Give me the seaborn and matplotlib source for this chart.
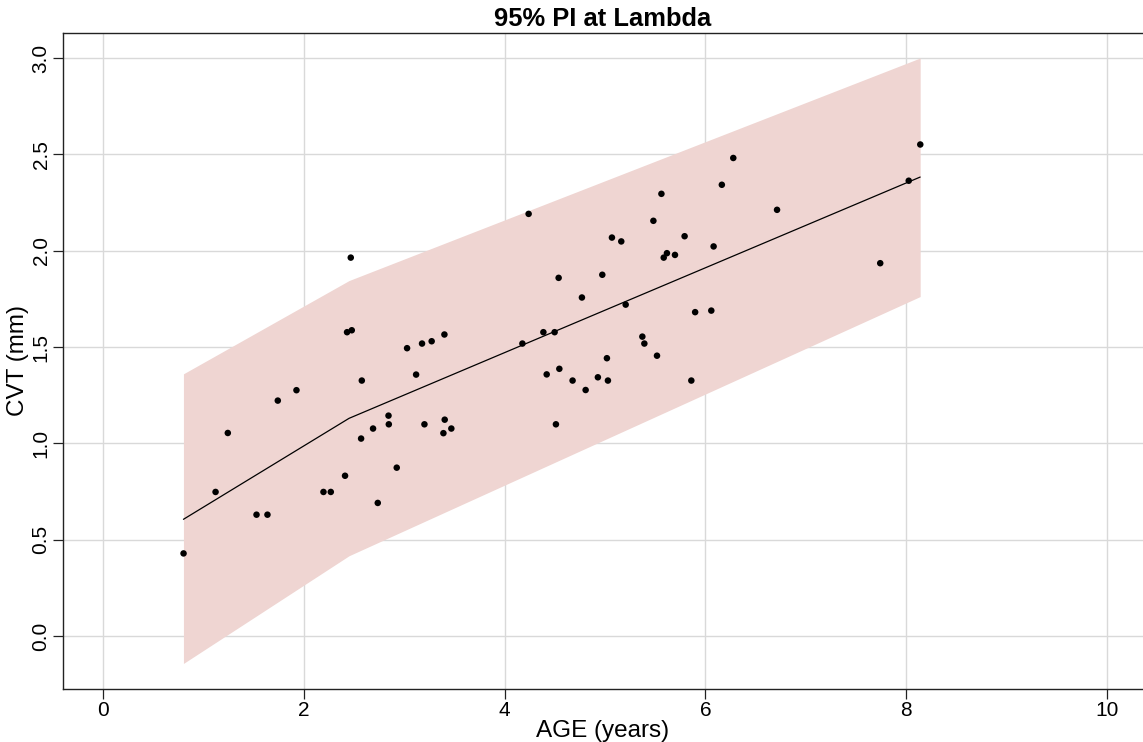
import matplotlib
matplotlib.use("Agg")
import matplotlib.pyplot as plt
import seaborn as sns
import pandas as pd

# ---- data ----
age = [0.801, 1.120, 1.242, 1.528, 1.637, 1.740, 1.926, 2.195, 2.268, 2.410,
       2.430, 2.477, 2.467, 2.570, 2.577, 2.689, 2.736, 2.843, 2.846, 2.925,
       3.028, 3.118, 3.177, 3.201, 3.273, 3.400, 3.390, 3.403, 3.469, 4.177,
       4.239, 4.386, 4.419, 4.498, 4.511, 4.538, 4.545, 4.677, 4.770, 4.807,
       4.929, 4.973, 5.019, 5.029, 5.069, 5.162, 5.206, 5.372, 5.392, 5.482,
       5.518, 5.562, 5.585, 5.617, 5.697, 5.793, 5.860, 5.898, 6.059, 6.082,
       6.164, 6.278, 6.714, 7.742, 8.026, 8.141]
cvt = [0.429, 0.748, 1.054, 0.630, 0.630, 1.222, 1.276, 0.748, 0.748, 0.832,
       1.577, 1.587, 1.964, 1.025, 1.326, 1.077, 0.691, 1.144, 1.099, 0.874,
       1.494, 1.357, 1.518, 1.099, 1.530, 1.565, 1.053, 1.123, 1.077, 1.518,
       2.191, 1.577, 1.358, 1.577, 1.099, 1.859, 1.387, 1.326, 1.757, 1.277,
       1.343, 1.875, 1.442, 1.326, 2.068, 2.048, 1.720, 1.554, 1.518, 2.155,
       1.455, 2.295, 1.964, 1.987, 1.978, 2.075, 1.326, 1.681, 1.689, 2.022,
       2.342, 2.481, 2.212, 1.935, 2.363, 2.551]

band_age = [0.80, 2.45, 8.14]
band_upper = [1.361, 1.845, 3.000]
band_lower = [-0.142, 0.417, 1.762]
band_mid = [0.606, 1.130, 2.382]

x_ticks = [0, 2, 4, 6, 8, 10]
y_ticks = [0.0, 0.5, 1.0, 1.5, 2.0, 2.5, 3.0]
y_tick_labels = ["0.0", "0.5", "1.0", "1.5", "2.0", "2.5", "3.0"]

title = "95% PI at Lambda"
x_label = "AGE (years)"
y_label = "CVT (mm)"

# ---- style ----
sns.set_theme(style="white")
plt.rcParams["font.family"] = ["Liberation Sans", "DejaVu Sans"]
plt.rcParams["text.color"] = "black"
plt.rcParams["axes.labelcolor"] = "black"
plt.rcParams["xtick.color"] = "black"
plt.rcParams["ytick.color"] = "black"

fig = plt.figure(figsize=(11.43, 7.42), dpi=100)
ax = fig.add_axes([63 / 1143, 53.3 / 742, 1080 / 1143, 655.4 / 742])

pts = pd.DataFrame({"AGE": age, "CVT": cvt})
band = pd.DataFrame({"AGE": band_age, "upper": band_upper,
                     "lower": band_lower, "mid": band_mid})

ax.fill_between(band["AGE"], band["lower"], band["upper"],
                color="#efd5d2", linewidth=0, zorder=1)
sns.lineplot(data=band, x="AGE", y="mid", ax=ax, color="black",
             linewidth=0.9, zorder=2)
sns.scatterplot(data=pts, x="AGE", y="CVT", ax=ax, color="black",
                s=22, edgecolor="none", zorder=3)

ax.set_xlim(-0.40, 10.36)
ax.set_ylim(-0.273, 3.128)
ax.set_xticks(x_ticks)
ax.set_xticklabels([str(t) for t in x_ticks])
ax.set_yticks(y_ticks)
ax.set_yticklabels(y_tick_labels)

ax.grid(True, color="#d9d9d9", linewidth=1.0, zorder=0)
ax.set_axisbelow(True)

for side in ["left", "bottom", "top"]:
    ax.spines[side].set_visible(True)
    ax.spines[side].set_color("#222222")
    ax.spines[side].set_linewidth(1.0)
ax.spines["right"].set_visible(False)

ax.tick_params(axis="both", which="major", direction="out", length=7,
               width=0.9, color="#222222", labelsize=15, pad=2,
               labelcolor="black")
ax.tick_params(axis="x", bottom=True, top=False)
ax.tick_params(axis="y", left=True, right=False, labelrotation=90)
for lab in ax.get_yticklabels():
    lab.set_verticalalignment("center")

ax.set_title(title, fontsize=18.4, fontweight="bold", pad=5, color="black")
ax.set_xlabel(x_label, fontsize=17.5, labelpad=0, color="black")
ax.set_ylabel(y_label, fontsize=17.5, labelpad=2, color="black")

fig.savefig("out.png", dpi=100)
